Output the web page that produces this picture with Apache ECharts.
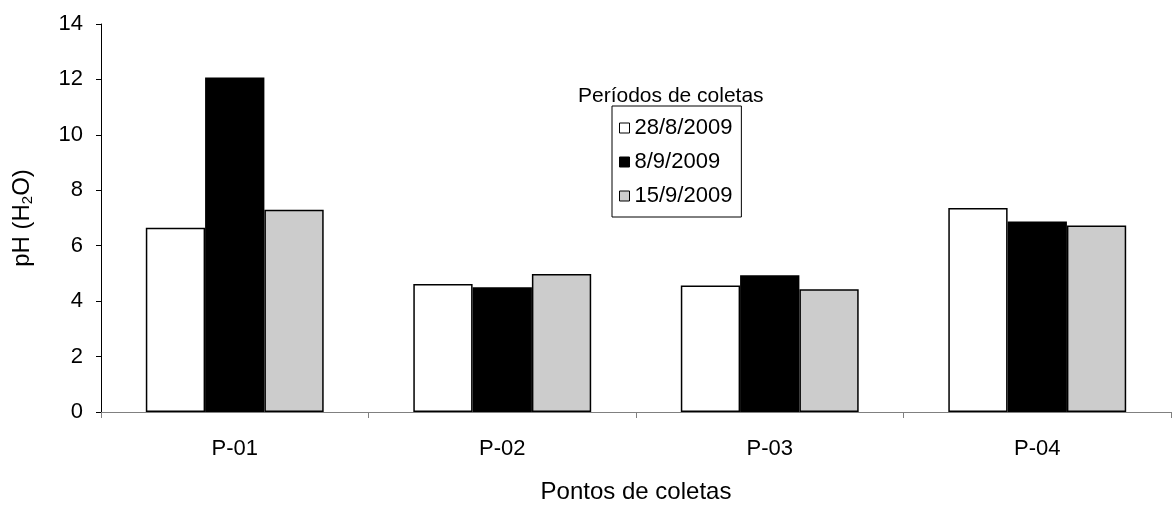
<!DOCTYPE html>
<html>
<head>
<meta charset="utf-8">
<script src="https://cdn.jsdelivr.net/npm/echarts@6/dist/echarts.min.js"></script>
<style>
html,body{margin:0;padding:0;background:#fff;}
#chart{width:1172px;height:509px;}
</style>
</head>
<body>
<div id="chart"></div>
<script>
const categories = ['P-01', 'P-02', 'P-03', 'P-04'];
const seriesNames = ['28/8/2009', '8/9/2009', '15/9/2009'];
const s1 = [6.65, 4.62, 4.56, 7.36];
const s2 = [12.07, 4.5, 4.93, 6.87];
const s3 = [7.3, 4.98, 4.43, 6.73];
const yTicks = { min: 0, max: 14, interval: 2 };
const colors = ['#FFFFFF', '#000000', '#CCCCCC'];
const font = 'Liberation Sans, Arial, sans-serif';

const chart = echarts.init(document.getElementById('chart'), null, { renderer: 'canvas' });
const values = [s1, s2, s3];
chart.setOption({
  animation: false,
  backgroundColor: '#fff',
  textStyle: { fontFamily: font },
  grid: { left: 101, right: 1, top: 24, bottom: 96, containLabel: false },
  legend: {
    orient: 'vertical',
    left: 612,
    top: 106,
    itemWidth: 10,
    itemHeight: 10,
    itemGap: 12,
    padding: [11, 9, 10, 7],
    borderColor: '#000',
    borderWidth: 1,
    itemStyle: { borderColor: '#000', borderWidth: 1 },
    textStyle: { fontFamily: font, fontSize: 22, color: '#000', lineHeight: 22 },
    data: seriesNames.map(n => ({ name: n, icon: 'rect' }))
  },
  graphic: [{
    type: 'text',
    left: 578,
    top: 86,
    style: { text: 'Períodos de coletas', font: '21px ' + font, fill: '#000' }
  }],
  xAxis: {
    type: 'category',
    data: categories,
    name: 'Pontos de coletas',
    nameLocation: 'middle',
    nameGap: 68,
    nameTextStyle: { fontFamily: font, fontSize: 24, color: '#000' },
    axisLine: { lineStyle: { color: '#808080', width: 1 } },
    axisTick: { show: true, alignWithLabel: false, interval: 0, length: 6, lineStyle: { color: '#808080' } },
    axisLabel: { fontFamily: font, fontSize: 22, color: '#000', margin: 26 },
    splitLine: { show: false }
  },
  yAxis: {
    type: 'value',
    min: yTicks.min,
    max: yTicks.max,
    interval: yTicks.interval,
    name: '{a|pH (H}{b|2}{a|O)}',
    nameLocation: 'middle',
    nameGap: 66,
    nameRotate: 90,
    nameTextStyle: {
      rich: {
        a: { fontFamily: font, fontSize: 24, color: '#000' },
        b: { fontFamily: font, fontSize: 15, color: '#000', padding: [10, 0, 0, 0] }
      }
    },
    axisLine: { show: true, lineStyle: { color: '#000', width: 1 } },
    axisTick: { show: true, length: 5, lineStyle: { color: '#000' } },
    axisLabel: { fontFamily: font, fontSize: 22, color: '#000', margin: 18 },
    splitLine: { show: false }
  },
  series: seriesNames.map((n, i) => ({
    name: n,
    type: 'bar',
    data: values[i],
    barGap: '0%',
    barCategoryGap: '33.5%',
    itemStyle: { color: colors[i], borderColor: '#000', borderWidth: 1.5 }
  }))
});
</script>
</body>
</html>
